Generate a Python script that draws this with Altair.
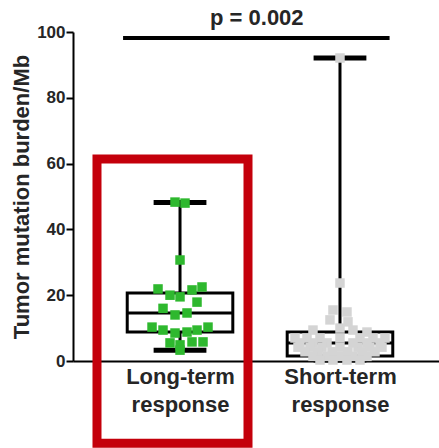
import json
import altair as alt
import pandas as pd

# ---- data ----
groups = ["Long-term response", "Short-term response"]
label_lines = [["Long-term", "response"], ["Short-term", "response"]]
stat_min = [3.3, 0.3]
stat_q1 = [8.8, 1.5]
stat_median = [14.6, 5.5]
stat_q3 = [20.7, 8.8]
stat_max = [48.2, 92.1]

long_values = [48.3, 48.0, 30.7, 21.9, 20.0, 19.5, 21.6, 22.5, 17.9, 16.0, 14.0, 14.6,
               10.3, 9.4, 8.5, 8.8, 9.4, 10.3, 5.5, 4.9, 5.8, 5.8, 3.3]
long_jitter = [-5, 5, 0, -22, -10, 0, 12, 22, 17, -17, -5, 7,
               -28, -17, -5, 7, 17, 28, -10, 0, 12, 23, 0]

short_values = [92.1, 23.7, 15.5, 14.9, 12.5, 11.9, 10.0, 9.4, 9.4, 8.8,
                7.0, 7.0, 7.0, 7.0, 7.0, 7.0, 7.0,
                5.5, 5.5, 5.5, 5.5, 5.5, 5.5,
                4.2, 4.2, 4.2, 4.2, 4.2, 4.2, 4.2,
                2.8, 2.8, 2.8, 2.8, 2.8, 2.8,
                1.4, 1.4, 1.4, 1.4, 1.4,
                0.3, 0.3, 0.3, 0.3]
short_jitter = [0, 0, -7, 7, -10, 8, 0, -27, 13, 27,
                -45, -33, -20, 0, 20, 33, 45,
                -40, -27, -13, 13, 27, 40,
                -42, -30, -18, 0, 18, 30, 42,
                -35, -22, -8, 8, 22, 35,
                -27, -13, 0, 13, 27,
                -20, -7, 7, 20]

p_text = "p = 0.002"
p_line_y = 98.2
p_line_x = [-0.356, 1.31]
p_text_pos = [0.48, 100.7]
highlight_x = [-0.519, 0.425]
highlight_y = [61.4, -25.0]

# ---- tables ----
UNIT = 160.0  # px per category step
stats = pd.DataFrame({
    "group": groups, "pos": [0, 1], "min": stat_min, "q1": stat_q1,
    "median": stat_median, "q3": stat_q3, "max": stat_max,
})
pts = pd.DataFrame({
    "value": long_values + short_values,
    "x": [0 + j / UNIT for j in long_jitter] + [1 + j / UNIT for j in short_jitter],
    "group": [groups[0]] * len(long_values) + [groups[1]] * len(short_values),
})

xscale = alt.Scale(domain=[-0.669, 1.619], nice=False, zero=False)
yscale = alt.Scale(domain=[0, 100], nice=False)

label_expr = "datum.value == 0 ? %s : %s" % (json.dumps(label_lines[0]), json.dumps(label_lines[1]))

xaxis = alt.Axis(values=[0, 1], labelExpr=label_expr, ticks=False, grid=False, title=None,
                 domainColor="black", domainWidth=2, labelFontSize=22, labelFontWeight="bold",
                 labelColor="#262626", labelLineHeight=28, labelPadding=5, labelFlush=False,
                 labelOverlap=False, labelFont="Liberation Sans")
yaxis = alt.Axis(values=[0, 20, 40, 60, 80, 100], tickSize=7, tickWidth=2, tickColor="black",
                 domainColor="black", domainWidth=2, grid=False, labelFontSize=17,
                 labelFontWeight="bold", labelColor="#262626", labelPadding=1,
                 labelFont="Liberation Sans",
                 title="Tumor mutation burden/Mb", titleFontSize=22, titleFontWeight="bold",
                 titleColor="#262626", titlePadding=3, titleFont="Liberation Sans")

base = alt.Chart(stats).transform_calculate(
    bl="datum.pos - 0.33", br="datum.pos + 0.33",
    cl="datum.pos - 0.165", cr="datum.pos + 0.165",
)

box = base.mark_rect(fill="white", stroke="black", strokeWidth=3).encode(
    x=alt.X("bl:Q", scale=xscale, axis=xaxis), x2="br:Q",
    y=alt.Y("q1:Q", scale=yscale, axis=yaxis), y2="q3:Q",
)
median = base.mark_rule(color="black", strokeWidth=3).encode(
    x=alt.X("bl:Q", scale=xscale), x2="br:Q", y=alt.Y("median:Q", scale=yscale),
)
whisk_hi = base.mark_rule(color="black", strokeWidth=3).encode(
    x=alt.X("pos:Q", scale=xscale), y=alt.Y("q3:Q", scale=yscale), y2="max:Q",
)
whisk_lo = base.mark_rule(color="black", strokeWidth=3).encode(
    x=alt.X("pos:Q", scale=xscale), y=alt.Y("min:Q", scale=yscale), y2="q1:Q",
)
cap_hi = base.mark_rule(color="black", strokeWidth=5).encode(
    x=alt.X("cl:Q", scale=xscale), x2="cr:Q", y=alt.Y("max:Q", scale=yscale),
)
cap_lo = base.mark_rule(color="black", strokeWidth=5).encode(
    x=alt.X("cl:Q", scale=xscale), x2="cr:Q", y=alt.Y("min:Q", scale=yscale),
)

points = alt.Chart(pts).mark_square(size=90, opacity=1, clip=False).encode(
    x=alt.X("x:Q", scale=xscale),
    y=alt.Y("value:Q", scale=yscale),
    color=alt.Color("group:N", scale=alt.Scale(domain=groups, range=["#2eb82e", "#d4d4d4"]),
                    legend=None),
)

pline = alt.Chart(pd.DataFrame({"x": [p_line_x[0]], "x2": [p_line_x[1]], "y": [p_line_y]})).mark_rule(
    color="black", strokeWidth=4, clip=False).encode(
    x=alt.X("x:Q", scale=xscale), x2="x2:Q", y=alt.Y("y:Q", scale=yscale))
ptext = alt.Chart(pd.DataFrame({"x": [p_text_pos[0]], "y": [p_text_pos[1]], "t": [p_text]})).mark_text(
    fontSize=22, fontWeight="bold", color="#262626", baseline="bottom", align="center",
    font="Liberation Sans", clip=False).encode(
    x=alt.X("x:Q", scale=xscale), y=alt.Y("y:Q", scale=yscale), text="t:N")

red = alt.Chart(pd.DataFrame({"x": [highlight_x[0]], "x2": [highlight_x[1]],
                              "y": [highlight_y[0]], "y2": [highlight_y[1]]})).mark_rect(
    fill="white", fillOpacity=0, stroke="#c4000b", strokeWidth=9, clip=False).encode(
    x=alt.X("x:Q", scale=xscale), x2="x2:Q", y=alt.Y("y:Q", scale=yscale), y2="y2:Q")

chart = alt.layer(box, median, whisk_hi, whisk_lo, cap_hi, cap_lo, points, pline, ptext, red).properties(
    width=366, height=329,
    autosize=alt.AutoSizeParams(type="none"),
    padding={"left": 73, "top": 32, "right": 0, "bottom": 87},
    background="white",
).configure_view(stroke=None)

chart.save("out.html", embed_options={"renderer": "svg", "actions": False})
